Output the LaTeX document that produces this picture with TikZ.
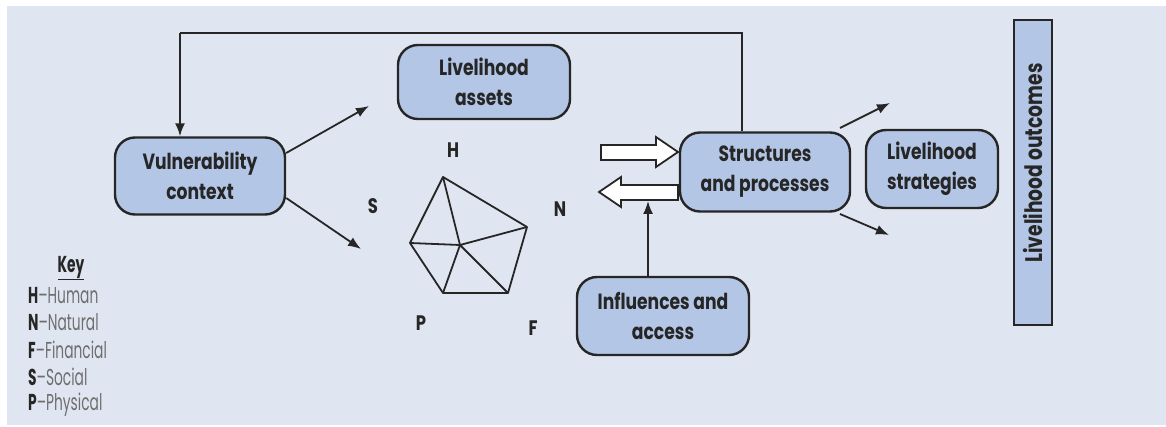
\documentclass[tikz,border=0pt]{standalone}
\usepackage{fontspec}
\setmainfont{Poppins}[FakeStretch=0.78]
\newfontfamily\keyfont{Poppins}[FakeStretch=0.6]
\usetikzlibrary{arrows.meta,calc}
\definecolor{bgc}{HTML}{E0E6F1}
\definecolor{boxc}{HTML}{B3C6E5}
\definecolor{inkc}{HTML}{262626}
\definecolor{keyg}{HTML}{6E6E6E}
\tikzset{
  box/.style={draw=inkc, line width=2.4pt, fill=boxc, rounded corners=20pt,
    align=center, font=\fontsize{22}{30}\selectfont\bfseries, text=inkc, inner sep=0pt},
  arr/.style={draw=inkc, line width=1.8pt, -{Latex[length=13pt,width=10pt]}},
  ln/.style={draw=inkc, line width=1.8pt},
  hollow/.style={draw=inkc, line width=1.8pt, fill=white, line join=miter},
  lbl/.style={font=\fontsize{21}{24}\selectfont\bfseries, text=inkc, inner sep=0pt},
  keyl/.style={anchor=west, inner sep=0pt, font=\keyfont\fontsize{23}{26}\selectfont, text=keyg}
}
\begin{document}
\begin{tikzpicture}[x=1pt,y=-1pt]
\useasboundingbox (0,0) rectangle (1166,427);
\fill[bgc] (7,6) rectangle (1166,425);

% boxes
\node[box, minimum width=172pt, minimum height=74pt] (LA) at (484,82) {Livelihood\\assets};
\node[box, minimum width=170pt, minimum height=77pt] (VC) at (200,176) {Vulnerability\\context};
\node[box, minimum width=170pt, minimum height=79pt] (SP) at (765,172) {Structures\\and processes};
\node[box, minimum width=132pt, minimum height=78pt] (LS) at (932,169) {Livelihood\\strategies};
\node[box, minimum width=172pt, minimum height=78pt] (IA) at (663,316) {Influences and\\access};
\node[box, rounded corners=0pt, minimum width=38pt, minimum height=305pt] (LO) at (1033,172.5) {};
\node[font=\fontsize{24}{26}\selectfont\bfseries, text=inkc, rotate=90, inner sep=0pt] (LOt) at (1033,163) {Livelihood outcomes};

% pentagon
\coordinate (pH) at (443,177);
\coordinate (pN) at (527,227);
\coordinate (pF) at (508,293);
\coordinate (pP) at (443,293);
\coordinate (pS) at (410,243);
\coordinate (pC) at (460,245);
\draw[ln, line join=round] (pH) -- (pN) -- (pF) -- (pP) -- (pS) -- cycle;
\draw[ln] (pC) -- (pH) (pC) -- (pN) (pC) -- (pF) (pC) -- (pP) (pC) -- (pS);
\node[lbl] (lH) at (453,150) {H};
\node[lbl] (lN) at (560,209) {N};
\node[lbl] (lS) at (373,206) {S};
\node[lbl] (lP) at (421,323) {P};
\node[lbl] (lF) at (533,328) {F};

% feedback loop
\coordinate (fbR) at (742,33);
\coordinate (fbL) at (180,33);
\draw[ln] (SP.north -| fbR) -- (fbR) -- (fbL);
\draw[arr] (fbL) -- (VC.north -| fbL);

% arrows from vulnerability
\coordinate (t1) at (369,106);
\coordinate (t2) at (361,249);
\draw[arr] ($(VC.east)+(0,-23)$) -- (t1);
\draw[arr] ($(VC.east)+(0,22)$) -- (t2);

% arrows from structures
\coordinate (t3) at (890,103);
\coordinate (t4) at (889,235);
\draw[arr] (840,128) -- (t3);
\draw[arr] (840,214) -- (t4);

% hollow arrows
\draw[hollow] (601,145) -- (656,145) -- (656,137) -- (678,152) -- (656,167) -- (656,160) -- (601,160) -- cycle;
\draw[hollow] (678,185) -- (621,185) -- (621,177) -- (599,192) -- (621,207) -- (621,200) -- (678,200) -- cycle;

% influences arrow
\coordinate (t5) at (648,201);
\draw[arr] (IA.north -| t5) -- (t5);

% key
\node[inner sep=0pt, font=\keyfont\fontsize{23}{26}\selectfont\bfseries, text=inkc] (key) at (71,268) {\underline{Key}};
\node[keyl] (k1) at (28,296) {\textcolor{inkc}{\bfseries H}–Human};
\node[keyl] (k2) at (28,322) {\textcolor{inkc}{\bfseries N}–Natural};
\node[keyl] (k3) at (28,350) {\textcolor{inkc}{\bfseries F}–Financial};
\node[keyl] (k4) at (28,377) {\textcolor{inkc}{\bfseries S}–Social};
\node[keyl] (k5) at (28,405) {\textcolor{inkc}{\bfseries P}–Physical};
\end{tikzpicture}
\end{document}
